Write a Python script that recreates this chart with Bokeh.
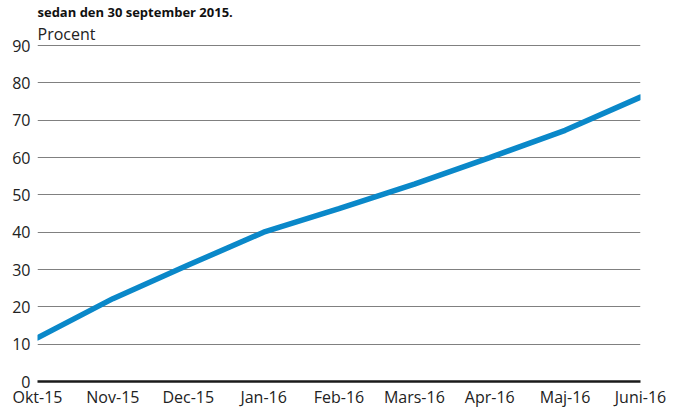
from bokeh.plotting import figure
from bokeh.models import Range1d, FixedTicker, Title
from bokeh.embed import file_html
from bokeh.resources import INLINE

months = ["Okt-15", "Nov-15", "Dec-15", "Jan-16", "Feb-16", "Mars-16", "Apr-16", "Maj-16", "Juni-16"]
values = [11.7, 22.2, 31.2, 40.0, 46.3, 52.9, 60.0, 67.3, 76.2]
y_ticks = [0, 10, 20, 30, 40, 50, 60, 70, 80, 90]
title_text = "sedan den 30 september 2015."
unit_text = "Procent"

FONT = "Open Sans"
xs = list(range(len(months)))

p = figure(width=675, height=410, output_backend="svg", toolbar_location=None,
           x_range=Range1d(0, len(months) - 1), y_range=Range1d(0, 90.3),
           min_border_left=37, min_border_right=35, min_border_top=0, min_border_bottom=0)
p.title.visible = False
p.outline_line_color = None
p.background_fill_color = "white"
p.border_fill_color = "white"

p.line(xs, values, line_color="#0a88c9", line_width=5.5, line_cap="round")

p.xgrid.grid_line_color = None
p.ygrid.grid_line_color = "#808080"
p.ygrid.grid_line_width = 1.2
p.ygrid.ticker = FixedTicker(ticks=y_ticks[1:])

for ax in (p.xaxis[0], p.yaxis[0]):
    ax.major_tick_line_color = None
    ax.minor_tick_line_color = None
    ax.major_tick_out = 0
    ax.major_tick_in = 0
    ax.minor_tick_out = 0
    ax.minor_tick_in = 0
    ax.major_label_text_font = FONT
    ax.major_label_text_font_size = "16px"
    ax.major_label_text_color = "#222222"

p.yaxis.ticker = FixedTicker(ticks=y_ticks)
p.yaxis.axis_line_color = None
p.yaxis.major_label_standoff = 7

p.xaxis.ticker = FixedTicker(ticks=xs)
p.xaxis.major_label_overrides = {i: m for i, m in enumerate(months)}
p.xaxis.axis_line_color = "#1a1a1a"
p.xaxis.axis_line_width = 2.5
p.xaxis.major_label_standoff = 4

p.add_layout(Title(text=unit_text, align="left", text_font=FONT, text_font_size="16px",
                   text_font_style="normal", text_color="#222222", standoff=0), "above")
p.add_layout(Title(text=title_text, align="left", text_font=FONT, text_font_size="13px",
                   text_font_style="bold", text_color="#111111", standoff=0), "above")

open("out.html", "w").write(file_html(p, INLINE))
